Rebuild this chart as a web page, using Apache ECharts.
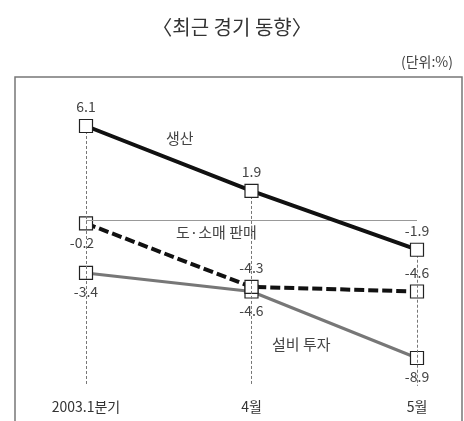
<!DOCTYPE html>
<html><head><meta charset="utf-8">
<script src="https://cdn.jsdelivr.net/npm/echarts@6/dist/echarts.min.js"></script>
<style>html,body{margin:0;padding:0;background:#fff}#c{width:464px;height:421px}</style>
</head><body><div id="c"></div>
<script>
const categories = ['2003.1분기', '4월', '5월'];
const production = [6.1, 1.9, -1.9];
const retail = [-0.2, -4.3, -4.6];
const investment = [-3.4, -4.6, -8.9];
const seriesNames = ['생산', '도·소매 판매', '설비 투자'];
const yMin = -11, yMax = 8;

const FONT = '"Noto Sans CJK KR", "Noto Sans", sans-serif';
const chart = echarts.init(document.getElementById('c'));

function marker() {
  return { symbol: 'rect', symbolSize: 13, itemStyle: { color: '#fff', borderColor: '#222', borderWidth: 1.2 } };
}
const labelBase = { show: true, fontFamily: FONT, fontSize: 14, color: '#444', distance: 5 };

const vlines = categories.map((c, i) => [
  { coord: [c, production[i]] }, { coord: [c, yMin + 0.3] }
]);

chart.setOption({
  animation: false,
  title: [
    { text: '〈최근 경기 동향〉', left: 'center', top: 12, textStyle: { fontFamily: FONT, fontSize: 20, fontWeight: 'normal', color: '#333' } },
    { text: '(단위:%)', right: 6, top: 50, textStyle: { fontFamily: FONT, fontSize: 14, fontWeight: 'normal', color: '#444' } }
  ],
  graphic: [
    { type: 'rect', shape: { x: 15, y: 77, width: 447, height: 360 }, style: { fill: 'none', stroke: '#777', lineWidth: 1.5 }, silent: true },
    { type: 'text', left: 166, top: 131, style: { text: seriesNames[0], font: '15px ' + FONT, fill: '#444' } },
    { type: 'text', left: 176, top: 225, style: { text: seriesNames[1], font: '15px ' + FONT, fill: '#444' } },
    { type: 'text', left: 272, top: 337, style: { text: seriesNames[2], font: '15px ' + FONT, fill: '#444' } }
  ],
  grid: { left: 86, right: 47, top: 96.6, bottom: 30.5 },
  xAxis: {
    type: 'category', data: categories, boundaryGap: false,
    axisLine: { show: false }, axisTick: { show: false }, splitLine: { show: false },
    axisLabel: { fontFamily: FONT, fontSize: 14, color: '#333', margin: 9 }
  },
  yAxis: { type: 'value', min: yMin, max: yMax, show: false, splitLine: { show: false } },
  series: [
    {
      name: seriesNames[0], type: 'line', data: production, z: 5,
      ...marker(),
      lineStyle: { color: '#111', width: 4 },
      label: { ...labelBase, position: 'top' },
      markLine: {
        silent: true, symbol: 'none', label: { show: false },
        lineStyle: { color: '#777', type: [3, 2], width: 1 },
        data: vlines.concat([[{ coord: [categories[0], 0], lineStyle: { type: 'solid', color: '#999', width: 1.2 } }, { coord: [categories[2], 0] }]])
      }
    },
    {
      name: seriesNames[1], type: 'line', z: 4,
      data: retail.map((v, i) => i === 0 ? { value: v, label: { position: 'bottom', offset: [-4, 0] } } : v),
      ...marker(),
      lineStyle: { color: '#111', width: 4, type: [10, 4] },
      label: { ...labelBase, position: 'top' }
    },
    {
      name: seriesNames[2], type: 'line', data: investment, z: 3,
      ...marker(),
      lineStyle: { color: '#777', width: 3 },
      label: { ...labelBase, position: 'bottom' }
    }
  ]
});
</script></body></html>
